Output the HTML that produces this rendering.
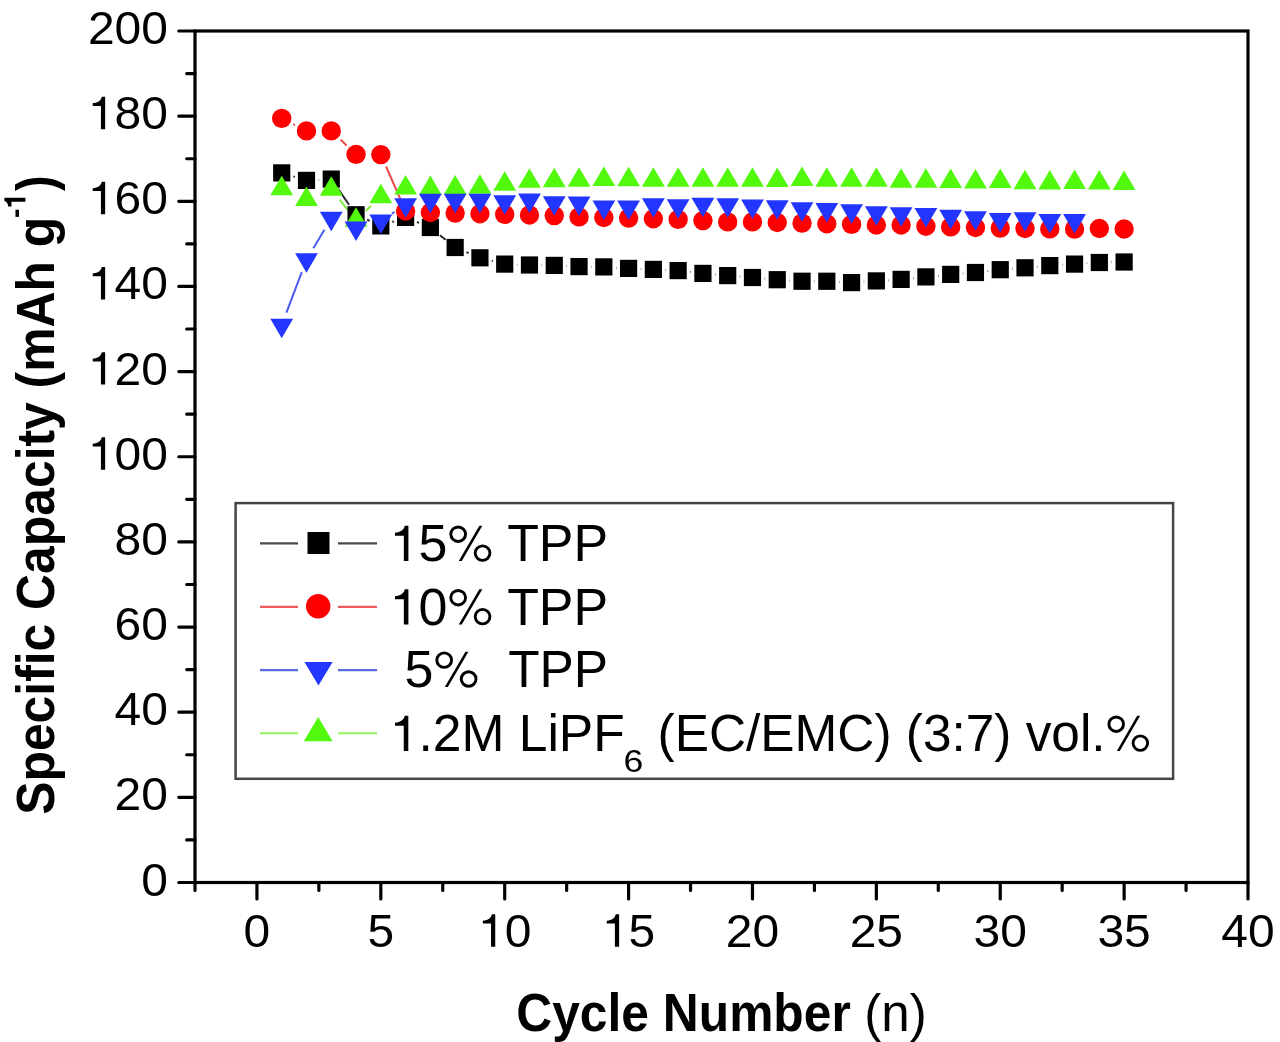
<!DOCTYPE html><html><head><meta charset="utf-8"><style>html,body{margin:0;padding:0;background:#fff;width:1280px;height:1042px;overflow:hidden}svg{display:block;will-change:transform}text{font-family:"Liberation Sans",sans-serif;fill:#000;white-space:pre}</style></head><body>
<svg width="1280" height="1042" viewBox="0 0 1280 1042" xml:space="preserve"><g>
<rect width="1280" height="1042" fill="#fff"/>
<g fill="none" stroke-width="2.0" stroke-linecap="butt">
<path d="M293.39,176.43L294.82,176.87M318.68,179.76L319.09,179.74M338.23,189.12L349.08,204.73M367.17,219.76L369.70,220.89M392.36,221.94L394.06,221.36M416.90,222.01L419.08,222.89M439.87,235.16L445.66,239.84M466.42,252.18L468.66,253.12M491.75,260.81L492.88,261.09M516.90,264.54L517.29,264.56M541.68,265.20L542.06,265.20M566.44,265.99L566.85,266.01M591.23,266.75L591.61,266.75M615.99,267.64L616.41,267.66M640.78,268.89L641.17,268.91M665.55,269.99L665.96,270.01M690.26,271.97L690.79,272.03M715.07,274.48L715.54,274.52M739.86,276.53L740.31,276.57M764.62,278.58L765.09,278.62M789.42,280.46L789.85,280.49M814.22,281.25L814.60,281.25M838.98,281.91L839.39,281.94M863.75,281.76L864.18,281.74M888.53,280.16L888.95,280.14M913.27,278.18L913.77,278.12M938.04,275.68L938.54,275.62M962.85,273.47L963.29,273.43M987.58,271.13L988.11,271.07M1012.40,268.77L1012.85,268.73M1037.16,266.72L1037.64,266.68M1061.97,264.86L1062.39,264.84M1086.74,263.31L1087.17,263.29M1111.54,262.25L1111.92,262.25" stroke="#2a2a2a"/>
<path d="M293.32,124.26L294.89,125.04M340.70,139.85L346.61,145.45M386.05,166.50L400.37,199.10" stroke="#f04848"/>
<path d="M339.67,199.72L347.65,209.78M365.80,211.02L371.07,205.98" stroke="#7cf040"/>
<path d="M286.42,312.71L301.79,272.09M313.34,248.24L324.43,229.76M391.96,213.67L394.47,212.03" stroke="#4a5cf0"/>
</g>
<rect x="273.12" y="164.30" width="17.2" height="17.2" fill="#000000"/>
<rect x="297.89" y="171.80" width="17.2" height="17.2" fill="#000000"/>
<rect x="322.67" y="170.50" width="17.2" height="17.2" fill="#000000"/>
<rect x="347.45" y="206.15" width="17.2" height="17.2" fill="#000000"/>
<rect x="372.22" y="217.30" width="17.2" height="17.2" fill="#000000"/>
<rect x="397.00" y="208.80" width="17.2" height="17.2" fill="#000000"/>
<rect x="421.78" y="218.90" width="17.2" height="17.2" fill="#000000"/>
<rect x="446.55" y="238.90" width="17.2" height="17.2" fill="#000000"/>
<rect x="471.33" y="249.20" width="17.2" height="17.2" fill="#000000"/>
<rect x="496.11" y="255.50" width="17.2" height="17.2" fill="#000000"/>
<rect x="520.88" y="256.40" width="17.2" height="17.2" fill="#000000"/>
<rect x="545.66" y="256.80" width="17.2" height="17.2" fill="#000000"/>
<rect x="570.44" y="258.00" width="17.2" height="17.2" fill="#000000"/>
<rect x="595.21" y="258.30" width="17.2" height="17.2" fill="#000000"/>
<rect x="619.99" y="259.80" width="17.2" height="17.2" fill="#000000"/>
<rect x="644.76" y="260.80" width="17.2" height="17.2" fill="#000000"/>
<rect x="669.54" y="262.00" width="17.2" height="17.2" fill="#000000"/>
<rect x="694.32" y="264.80" width="17.2" height="17.2" fill="#000000"/>
<rect x="719.09" y="267.00" width="17.2" height="17.2" fill="#000000"/>
<rect x="743.87" y="268.90" width="17.2" height="17.2" fill="#000000"/>
<rect x="768.65" y="271.10" width="17.2" height="17.2" fill="#000000"/>
<rect x="793.42" y="272.65" width="17.2" height="17.2" fill="#000000"/>
<rect x="818.20" y="272.65" width="17.2" height="17.2" fill="#000000"/>
<rect x="842.98" y="274.00" width="17.2" height="17.2" fill="#000000"/>
<rect x="867.75" y="272.30" width="17.2" height="17.2" fill="#000000"/>
<rect x="892.53" y="270.80" width="17.2" height="17.2" fill="#000000"/>
<rect x="917.31" y="268.30" width="17.2" height="17.2" fill="#000000"/>
<rect x="942.08" y="265.80" width="17.2" height="17.2" fill="#000000"/>
<rect x="966.86" y="263.90" width="17.2" height="17.2" fill="#000000"/>
<rect x="991.64" y="261.10" width="17.2" height="17.2" fill="#000000"/>
<rect x="1016.41" y="259.20" width="17.2" height="17.2" fill="#000000"/>
<rect x="1041.19" y="257.00" width="17.2" height="17.2" fill="#000000"/>
<rect x="1065.96" y="255.50" width="17.2" height="17.2" fill="#000000"/>
<rect x="1090.74" y="253.90" width="17.2" height="17.2" fill="#000000"/>
<rect x="1115.52" y="253.40" width="17.2" height="17.2" fill="#000000"/>
<circle cx="281.72" cy="118.40" r="9.7" fill="#ff0000"/>
<circle cx="306.49" cy="130.90" r="9.7" fill="#ff0000"/>
<circle cx="331.27" cy="130.90" r="9.7" fill="#ff0000"/>
<circle cx="356.05" cy="154.40" r="9.7" fill="#ff0000"/>
<circle cx="380.82" cy="154.60" r="9.7" fill="#ff0000"/>
<circle cx="405.60" cy="211.00" r="9.7" fill="#ff0000"/>
<circle cx="430.38" cy="212.50" r="9.7" fill="#ff0000"/>
<circle cx="455.15" cy="213.10" r="9.7" fill="#ff0000"/>
<circle cx="479.93" cy="213.75" r="9.7" fill="#ff0000"/>
<circle cx="504.71" cy="214.40" r="9.7" fill="#ff0000"/>
<circle cx="529.48" cy="215.00" r="9.7" fill="#ff0000"/>
<circle cx="554.26" cy="215.60" r="9.7" fill="#ff0000"/>
<circle cx="579.04" cy="216.90" r="9.7" fill="#ff0000"/>
<circle cx="603.81" cy="217.50" r="9.7" fill="#ff0000"/>
<circle cx="628.59" cy="218.10" r="9.7" fill="#ff0000"/>
<circle cx="653.36" cy="218.75" r="9.7" fill="#ff0000"/>
<circle cx="678.14" cy="219.40" r="9.7" fill="#ff0000"/>
<circle cx="702.92" cy="220.60" r="9.7" fill="#ff0000"/>
<circle cx="727.69" cy="221.90" r="9.7" fill="#ff0000"/>
<circle cx="752.47" cy="221.90" r="9.7" fill="#ff0000"/>
<circle cx="777.25" cy="222.50" r="9.7" fill="#ff0000"/>
<circle cx="802.02" cy="223.10" r="9.7" fill="#ff0000"/>
<circle cx="826.80" cy="223.75" r="9.7" fill="#ff0000"/>
<circle cx="851.58" cy="224.40" r="9.7" fill="#ff0000"/>
<circle cx="876.35" cy="225.00" r="9.7" fill="#ff0000"/>
<circle cx="901.13" cy="225.00" r="9.7" fill="#ff0000"/>
<circle cx="925.91" cy="226.25" r="9.7" fill="#ff0000"/>
<circle cx="950.68" cy="226.90" r="9.7" fill="#ff0000"/>
<circle cx="975.46" cy="227.50" r="9.7" fill="#ff0000"/>
<circle cx="1000.24" cy="228.10" r="9.7" fill="#ff0000"/>
<circle cx="1025.01" cy="228.50" r="9.7" fill="#ff0000"/>
<circle cx="1049.79" cy="228.90" r="9.7" fill="#ff0000"/>
<circle cx="1074.56" cy="229.10" r="9.7" fill="#ff0000"/>
<circle cx="1099.34" cy="228.50" r="9.7" fill="#ff0000"/>
<circle cx="1124.12" cy="229.00" r="9.7" fill="#ff0000"/>
<polygon points="270.32,195.35 293.12,195.35 281.72,175.85" fill="#52f90c"/>
<polygon points="295.09,206.00 317.89,206.00 306.49,186.50" fill="#52f90c"/>
<polygon points="319.87,195.65 342.67,195.65 331.27,176.15" fill="#52f90c"/>
<polygon points="344.65,226.85 367.45,226.85 356.05,207.35" fill="#52f90c"/>
<polygon points="369.42,203.15 392.22,203.15 380.82,183.65" fill="#52f90c"/>
<polygon points="394.20,194.55 417.00,194.55 405.60,175.05" fill="#52f90c"/>
<polygon points="418.98,195.05 441.78,195.05 430.38,175.55" fill="#52f90c"/>
<polygon points="443.75,194.45 466.55,194.45 455.15,174.95" fill="#52f90c"/>
<polygon points="468.53,193.75 491.33,193.75 479.93,174.25" fill="#52f90c"/>
<polygon points="493.31,190.65 516.11,190.65 504.71,171.15" fill="#52f90c"/>
<polygon points="518.08,187.75 540.88,187.75 529.48,168.25" fill="#52f90c"/>
<polygon points="542.86,187.25 565.66,187.25 554.26,167.75" fill="#52f90c"/>
<polygon points="567.64,186.65 590.44,186.65 579.04,167.15" fill="#52f90c"/>
<polygon points="592.41,186.00 615.21,186.00 603.81,166.50" fill="#52f90c"/>
<polygon points="617.19,186.25 639.99,186.25 628.59,166.75" fill="#52f90c"/>
<polygon points="641.96,186.65 664.76,186.65 653.36,167.15" fill="#52f90c"/>
<polygon points="666.74,186.65 689.54,186.65 678.14,167.15" fill="#52f90c"/>
<polygon points="691.52,186.65 714.32,186.65 702.92,167.15" fill="#52f90c"/>
<polygon points="716.29,186.65 739.09,186.65 727.69,167.15" fill="#52f90c"/>
<polygon points="741.07,186.65 763.87,186.65 752.47,167.15" fill="#52f90c"/>
<polygon points="765.85,187.05 788.65,187.05 777.25,167.55" fill="#52f90c"/>
<polygon points="790.62,186.00 813.42,186.00 802.02,166.50" fill="#52f90c"/>
<polygon points="815.40,186.75 838.20,186.75 826.80,167.25" fill="#52f90c"/>
<polygon points="840.18,186.75 862.98,186.75 851.58,167.25" fill="#52f90c"/>
<polygon points="864.95,186.75 887.75,186.75 876.35,167.25" fill="#52f90c"/>
<polygon points="889.73,187.75 912.53,187.75 901.13,168.25" fill="#52f90c"/>
<polygon points="914.51,187.75 937.31,187.75 925.91,168.25" fill="#52f90c"/>
<polygon points="939.28,188.05 962.08,188.05 950.68,168.55" fill="#52f90c"/>
<polygon points="964.06,188.55 986.86,188.55 975.46,169.05" fill="#52f90c"/>
<polygon points="988.84,188.05 1011.64,188.05 1000.24,168.55" fill="#52f90c"/>
<polygon points="1013.61,189.15 1036.41,189.15 1025.01,169.65" fill="#52f90c"/>
<polygon points="1038.39,189.45 1061.19,189.45 1049.79,169.95" fill="#52f90c"/>
<polygon points="1063.16,189.05 1085.96,189.05 1074.56,169.55" fill="#52f90c"/>
<polygon points="1087.94,189.45 1110.74,189.45 1099.34,169.95" fill="#52f90c"/>
<polygon points="1112.72,189.95 1135.52,189.95 1124.12,170.45" fill="#52f90c"/>
<polygon points="270.32,318.65 293.12,318.65 281.72,338.15" fill="#2236ff"/>
<polygon points="295.09,253.15 317.89,253.15 306.49,272.65" fill="#2236ff"/>
<polygon points="319.87,211.85 342.67,211.85 331.27,231.35" fill="#2236ff"/>
<polygon points="344.65,221.50 367.45,221.50 356.05,241.00" fill="#2236ff"/>
<polygon points="369.42,214.45 392.22,214.45 380.82,233.95" fill="#2236ff"/>
<polygon points="394.20,198.25 417.00,198.25 405.60,217.75" fill="#2236ff"/>
<polygon points="418.98,193.65 441.78,193.65 430.38,213.15" fill="#2236ff"/>
<polygon points="443.75,193.65 466.55,193.65 455.15,213.15" fill="#2236ff"/>
<polygon points="468.53,193.65 491.33,193.65 479.93,213.15" fill="#2236ff"/>
<polygon points="493.31,195.35 516.11,195.35 504.71,214.85" fill="#2236ff"/>
<polygon points="518.08,193.55 540.88,193.55 529.48,213.05" fill="#2236ff"/>
<polygon points="542.86,196.15 565.66,196.15 554.26,215.65" fill="#2236ff"/>
<polygon points="567.64,196.50 590.44,196.50 579.04,216.00" fill="#2236ff"/>
<polygon points="592.41,200.55 615.21,200.55 603.81,220.05" fill="#2236ff"/>
<polygon points="617.19,200.55 639.99,200.55 628.59,220.05" fill="#2236ff"/>
<polygon points="641.96,198.25 664.76,198.25 653.36,217.75" fill="#2236ff"/>
<polygon points="666.74,199.15 689.54,199.15 678.14,218.65" fill="#2236ff"/>
<polygon points="691.52,197.85 714.32,197.85 702.92,217.35" fill="#2236ff"/>
<polygon points="716.29,198.25 739.09,198.25 727.69,217.75" fill="#2236ff"/>
<polygon points="741.07,199.50 763.87,199.50 752.47,219.00" fill="#2236ff"/>
<polygon points="765.85,200.35 788.65,200.35 777.25,219.85" fill="#2236ff"/>
<polygon points="790.62,202.35 813.42,202.35 802.02,221.85" fill="#2236ff"/>
<polygon points="815.40,203.05 838.20,203.05 826.80,222.55" fill="#2236ff"/>
<polygon points="840.18,204.25 862.98,204.25 851.58,223.75" fill="#2236ff"/>
<polygon points="864.95,206.35 887.75,206.35 876.35,225.85" fill="#2236ff"/>
<polygon points="889.73,207.15 912.53,207.15 901.13,226.65" fill="#2236ff"/>
<polygon points="914.51,208.00 937.31,208.00 925.91,227.50" fill="#2236ff"/>
<polygon points="939.28,209.85 962.08,209.85 950.68,229.35" fill="#2236ff"/>
<polygon points="964.06,211.15 986.86,211.15 975.46,230.65" fill="#2236ff"/>
<polygon points="988.84,212.95 1011.64,212.95 1000.24,232.45" fill="#2236ff"/>
<polygon points="1013.61,212.35 1036.41,212.35 1025.01,231.85" fill="#2236ff"/>
<polygon points="1038.39,214.00 1061.19,214.00 1049.79,233.50" fill="#2236ff"/>
<polygon points="1063.16,214.00 1085.96,214.00 1074.56,233.50" fill="#2236ff"/>
<rect x="195.0" y="31.0" width="1053.0" height="851.5" fill="none" stroke="#000" stroke-width="3.2"/>
<path d="M178.80,882.50H195.0M186.70,839.92H195.0M178.80,797.35H195.0M186.70,754.77H195.0M178.80,712.20H195.0M186.70,669.62H195.0M178.80,627.05H195.0M186.70,584.48H195.0M178.80,541.90H195.0M186.70,499.32H195.0M178.80,456.75H195.0M186.70,414.18H195.0M178.80,371.60H195.0M186.70,329.02H195.0M178.80,286.45H195.0M186.70,243.88H195.0M178.80,201.30H195.0M186.70,158.73H195.0M178.80,116.15H195.0M186.70,73.58H195.0M178.80,31.00H195.0M195.00,882.5V890.50M256.94,882.5V898.90M318.88,882.5V890.50M380.82,882.5V898.90M442.76,882.5V890.50M504.71,882.5V898.90M566.65,882.5V890.50M628.59,882.5V898.90M690.53,882.5V890.50M752.47,882.5V898.90M814.41,882.5V890.50M876.35,882.5V898.90M938.29,882.5V890.50M1000.24,882.5V898.90M1062.18,882.5V890.50M1124.12,882.5V898.90M1186.06,882.5V890.50M1248.00,882.5V898.90" stroke="#000" stroke-width="3.2" stroke-linecap="round" fill="none"/>
<g transform="translate(141.30,895.50) scale(1,0.98)"><text x="0.00" y="0" font-size="48">0</text></g>
<g transform="translate(114.60,810.35) scale(1,0.98)"><text x="0.00" y="0" font-size="48">2</text><text x="26.70" y="0" font-size="48">0</text></g>
<g transform="translate(114.60,725.20) scale(1,0.98)"><text x="0.00" y="0" font-size="48">4</text><text x="26.70" y="0" font-size="48">0</text></g>
<g transform="translate(114.60,640.05) scale(1,0.98)"><text x="0.00" y="0" font-size="48">6</text><text x="26.70" y="0" font-size="48">0</text></g>
<g transform="translate(114.60,554.90) scale(1,0.98)"><text x="0.00" y="0" font-size="48">8</text><text x="26.70" y="0" font-size="48">0</text></g>
<g transform="translate(87.91,469.75) scale(1,0.98)"><path d="M0.359,0L0.359,-0.69L0.29,-0.69C0.272,-0.615,0.215,-0.56,0.101,-0.555L0.101,-0.493L0.271,-0.493L0.271,0Z" transform="translate(0.00,0.00) scale(48)" fill="#000"/><text x="26.70" y="0" font-size="48">0</text><text x="53.40" y="0" font-size="48">0</text></g>
<g transform="translate(87.91,384.60) scale(1,0.98)"><path d="M0.359,0L0.359,-0.69L0.29,-0.69C0.272,-0.615,0.215,-0.56,0.101,-0.555L0.101,-0.493L0.271,-0.493L0.271,0Z" transform="translate(0.00,0.00) scale(48)" fill="#000"/><text x="26.70" y="0" font-size="48">2</text><text x="53.40" y="0" font-size="48">0</text></g>
<g transform="translate(87.91,299.45) scale(1,0.98)"><path d="M0.359,0L0.359,-0.69L0.29,-0.69C0.272,-0.615,0.215,-0.56,0.101,-0.555L0.101,-0.493L0.271,-0.493L0.271,0Z" transform="translate(0.00,0.00) scale(48)" fill="#000"/><text x="26.70" y="0" font-size="48">4</text><text x="53.40" y="0" font-size="48">0</text></g>
<g transform="translate(87.91,214.30) scale(1,0.98)"><path d="M0.359,0L0.359,-0.69L0.29,-0.69C0.272,-0.615,0.215,-0.56,0.101,-0.555L0.101,-0.493L0.271,-0.493L0.271,0Z" transform="translate(0.00,0.00) scale(48)" fill="#000"/><text x="26.70" y="0" font-size="48">6</text><text x="53.40" y="0" font-size="48">0</text></g>
<g transform="translate(87.91,129.15) scale(1,0.98)"><path d="M0.359,0L0.359,-0.69L0.29,-0.69C0.272,-0.615,0.215,-0.56,0.101,-0.555L0.101,-0.493L0.271,-0.493L0.271,0Z" transform="translate(0.00,0.00) scale(48)" fill="#000"/><text x="26.70" y="0" font-size="48">8</text><text x="53.40" y="0" font-size="48">0</text></g>
<g transform="translate(87.91,44.00) scale(1,0.98)"><text x="0.00" y="0" font-size="48">2</text><text x="26.70" y="0" font-size="48">0</text><text x="53.40" y="0" font-size="48">0</text></g>
<g transform="translate(243.59,946.80) scale(1,0.98)"><text x="0.00" y="0" font-size="48">0</text></g>
<g transform="translate(367.47,946.80) scale(1,0.98)"><text x="0.00" y="0" font-size="48">5</text></g>
<g transform="translate(478.01,946.80) scale(1,0.98)"><path d="M0.359,0L0.359,-0.69L0.29,-0.69C0.272,-0.615,0.215,-0.56,0.101,-0.555L0.101,-0.493L0.271,-0.493L0.271,0Z" transform="translate(0.00,0.00) scale(48)" fill="#000"/><text x="26.70" y="0" font-size="48">0</text></g>
<g transform="translate(601.89,946.80) scale(1,0.98)"><path d="M0.359,0L0.359,-0.69L0.29,-0.69C0.272,-0.615,0.215,-0.56,0.101,-0.555L0.101,-0.493L0.271,-0.493L0.271,0Z" transform="translate(0.00,0.00) scale(48)" fill="#000"/><text x="26.70" y="0" font-size="48">5</text></g>
<g transform="translate(725.77,946.80) scale(1,0.98)"><text x="0.00" y="0" font-size="48">2</text><text x="26.70" y="0" font-size="48">0</text></g>
<g transform="translate(849.66,946.80) scale(1,0.98)"><text x="0.00" y="0" font-size="48">2</text><text x="26.70" y="0" font-size="48">5</text></g>
<g transform="translate(973.54,946.80) scale(1,0.98)"><text x="0.00" y="0" font-size="48">3</text><text x="26.70" y="0" font-size="48">0</text></g>
<g transform="translate(1097.42,946.80) scale(1,0.98)"><text x="0.00" y="0" font-size="48">3</text><text x="26.70" y="0" font-size="48">5</text></g>
<g transform="translate(1221.30,946.80) scale(1,0.98)"><text x="0.00" y="0" font-size="48">4</text><text x="26.70" y="0" font-size="48">0</text></g>
<rect x="235.6" y="503.1" width="937.5" height="275.7" fill="#fff" stroke="#444" stroke-width="2.5"/>
<path d="M260,543.4H298M338,543.4H377" stroke="#4a4a4a" stroke-width="2.2" fill="none"/>
<rect x="307.50" y="532.00" width="22" height="22" fill="#000000"/>
<path d="M260,606.8H298M338,606.8H377" stroke="#ec5c5c" stroke-width="2.2" fill="none"/>
<circle cx="318.20" cy="606.25" r="12.2" fill="#ff0000"/>
<path d="M260,670.1H298M338,670.1H377" stroke="#5a6ae0" stroke-width="2.2" fill="none"/>
<polygon points="304.40,661.90 332.60,661.90 318.50,685.60" fill="#2236ff"/>
<path d="M260,733.25H298M338,733.25H377" stroke="#90f65e" stroke-width="2.2" fill="none"/>
<polygon points="303.82,741.27 332.57,741.27 318.20,716.93" fill="#52f90c"/>
<g transform="translate(516.25,1030.6) scale(0.9352,1)"><text x="0.00" y="0" font-size="53.2" font-weight="bold">Cycle Number</text></g>
<g transform="translate(864.31,1030.6) scale(0.9825,1)"><text x="0.00" y="0" font-size="52">(n)</text></g>
<g transform="translate(389.76,561) scale(1.0181,1)"><path d="M0.359,0L0.359,-0.69L0.29,-0.69C0.272,-0.615,0.215,-0.56,0.101,-0.555L0.101,-0.493L0.271,-0.493L0.271,0Z" transform="translate(0.00,0.00) scale(51)" fill="#000"/><text x="28.36" y="0" font-size="51">5</text><g transform="translate(56.73,0.00) scale(51)"><circle cx="0.205" cy="-0.525" r="0.142" fill="none" stroke="#000" stroke-width="0.056"/><circle cx="0.675" cy="-0.155" r="0.142" fill="none" stroke="#000" stroke-width="0.056"/><polygon points="0.2164,0 0.2744,0 0.6706,-0.69 0.6126,-0.69" fill="#000"/></g><text x="102.07" y="0" font-size="51"> TPP</text></g>
<g transform="translate(389.76,624.5) scale(1.0181,1)"><path d="M0.359,0L0.359,-0.69L0.29,-0.69C0.272,-0.615,0.215,-0.56,0.101,-0.555L0.101,-0.493L0.271,-0.493L0.271,0Z" transform="translate(0.00,0.00) scale(51)" fill="#000"/><text x="28.36" y="0" font-size="51">0</text><g transform="translate(56.73,0.00) scale(51)"><circle cx="0.205" cy="-0.525" r="0.142" fill="none" stroke="#000" stroke-width="0.056"/><circle cx="0.675" cy="-0.155" r="0.142" fill="none" stroke="#000" stroke-width="0.056"/><polygon points="0.2164,0 0.2744,0 0.6706,-0.69 0.6126,-0.69" fill="#000"/></g><text x="102.07" y="0" font-size="51"> TPP</text></g>
<g transform="translate(404.62,686.9) scale(1.0198,1)"><text x="0.00" y="0" font-size="51">5</text><g transform="translate(28.36,0.00) scale(51)"><circle cx="0.205" cy="-0.525" r="0.142" fill="none" stroke="#000" stroke-width="0.056"/><circle cx="0.675" cy="-0.155" r="0.142" fill="none" stroke="#000" stroke-width="0.056"/><polygon points="0.2164,0 0.2744,0 0.6706,-0.69 0.6126,-0.69" fill="#000"/></g></g>
<g transform="translate(508.20,686.9) scale(1.0078,1)"><text x="0.00" y="0" font-size="51">TPP</text></g>
<g transform="translate(389.79,751) scale(1.0111,1)"><path d="M0.359,0L0.359,-0.69L0.29,-0.69C0.272,-0.615,0.215,-0.56,0.101,-0.555L0.101,-0.493L0.271,-0.493L0.271,0Z" transform="translate(0.00,0.00) scale(51)" fill="#000"/><text x="28.36" y="0" font-size="51">.2M LiPF</text></g>
<g transform="translate(623.59,771.5) scale(1.1646,1)"><text x="0.00" y="0" font-size="30.5">6</text></g>
<g transform="translate(657.59,751) scale(1.0072,1)"><text x="0.00" y="0" font-size="51">(EC/EMC) (3:7) vol.</text><g transform="translate(444.88,0.00) scale(51)"><circle cx="0.205" cy="-0.525" r="0.142" fill="none" stroke="#000" stroke-width="0.056"/><circle cx="0.675" cy="-0.155" r="0.142" fill="none" stroke="#000" stroke-width="0.056"/><polygon points="0.2164,0 0.2744,0 0.6706,-0.69 0.6126,-0.69" fill="#000"/></g></g>
<text transform="translate(54.2,814.78) rotate(-90) scale(0.9366,1)" font-size="53.2" font-weight="bold">Specific Capacity (mAh g</text>
<g transform="translate(25.4,217.88) rotate(-90) scale(0.9415,1)"><text font-size="30" font-weight="bold">-</text><path d="M0.378,0L0.378,-0.70L0.262,-0.70C0.243,-0.625,0.18,-0.58,0.069,-0.575L0.069,-0.465L0.238,-0.465L0.238,0Z" transform="translate(9.99,0.00) scale(30)" fill="#000"/></g>
<text transform="translate(54.2,191.10) rotate(-90) scale(0.8801,1)" font-size="53.2" font-weight="bold">)</text>
</g></svg></body></html>
